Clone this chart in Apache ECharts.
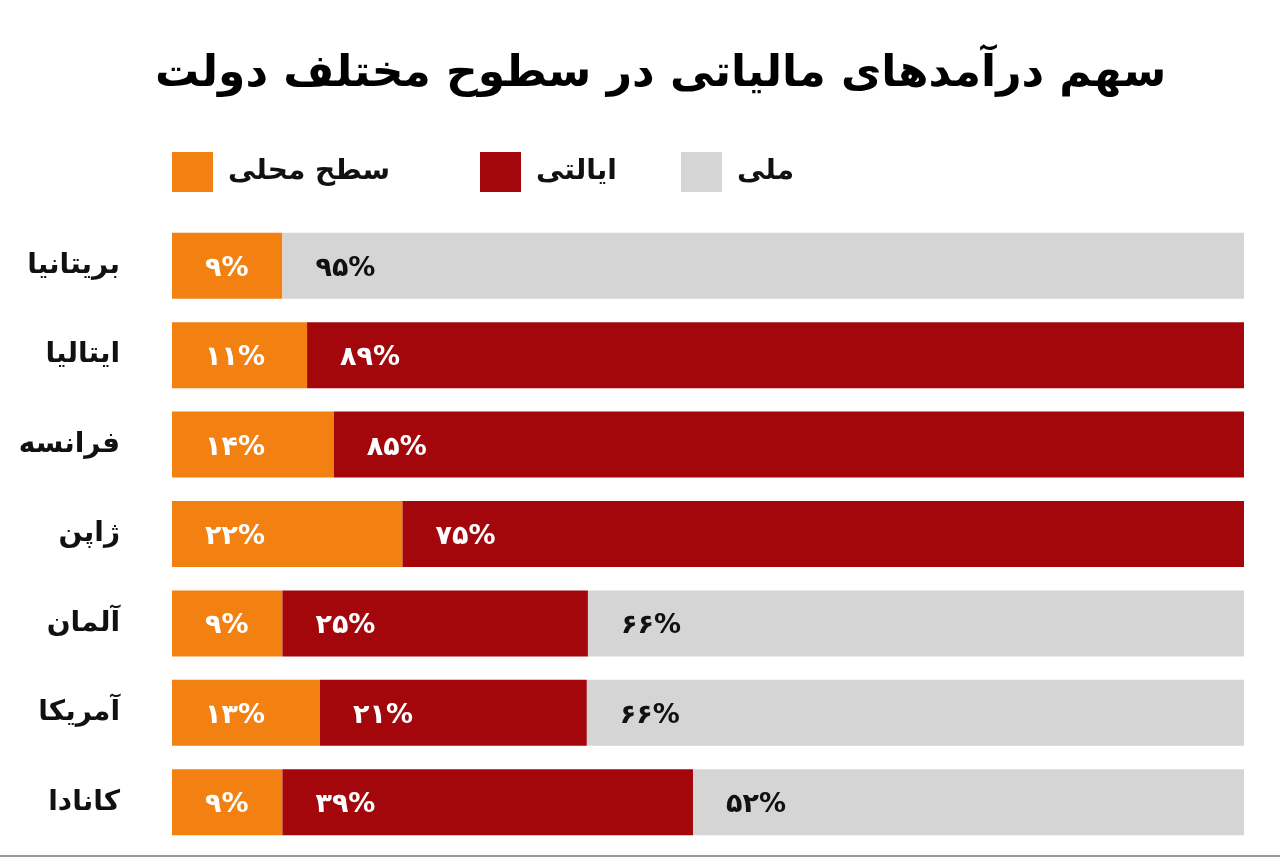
<!DOCTYPE html>
<html>
<head>
<meta charset="utf-8">
<script src="https://cdn.jsdelivr.net/npm/echarts@6/dist/echarts.min.js"></script>
<style>
	html, body { margin: 0; padding: 0; background: #fff; }
	#main { width: 1280px; height: 859px; }
</style>
</head>
<body>
<div id="main"></div>
<script>
var countries = ['بریتانیا', 'ایتالیا', 'فرانسه', 'ژاپن', 'آلمان', 'آمریکا', 'کانادا'];
var seriesNames = ['سطح محلی', 'ایالتی', 'ملی'];

// bar lengths as drawn in the picture (share of full bar)
var localShare = [10.3, 12.6, 15.1, 21.5, 10.3, 13.8, 10.3];
var stateShare = [0, 87.4, 84.9, 78.5, 28.5, 24.9, 38.3];
var nationalShare = [89.7, 0, 0, 0, 61.2, 61.3, 51.4];

// printed labels
var localLabels = ['۹%', '۱۱%', '۱۴%', '۲۲%', '۹%', '۱۳%', '۹%'];
var stateLabels = ['', '۸۹%', '۸۵%', '۷۵%', '۲۵%', '۲۱%', '۳۹%'];
var nationalLabels = ['۹۵%', '', '', '', '۶۶%', '۶۶%', '۵۲%'];

var font = '"DejaVu Sans", sans-serif';

function labelFor(texts, color) {
	return {
		show: true,
		position: 'insideLeft',
		distance: 33,
		offset: [0, 3],
		fontFamily: font,
		fontWeight: 'bold',
		fontSize: 27,
		color: color,
		formatter: function (p) { return texts[p.dataIndex]; }
	};
}

function legendAt(name, left) {
	return {
		data: [name],
		left: left,
		top: 152,
		padding: 0,
		itemWidth: 41,
		itemHeight: 40,
		icon: 'rect',
		selectedMode: false,
		textStyle: {
			fontFamily: font,
			fontWeight: 'bold',
			fontSize: 28,
			color: '#111',
			padding: [0, 0, 0, 10]
		}
	};
}

var myChart = echarts.init(document.getElementById('main'));
var option = {
	backgroundColor: '#fff',
	animation: false,
	color: ['#f28112', '#a3070b', '#d5d5d5'],
	title: {
		text: 'سهم درآمدهای مالیاتی در سطوح مختلف دولت',
		left: 155,
		top: 53,
		padding: 0,
		textStyle: {
			fontFamily: font,
			fontWeight: 'bold',
			fontSize: 44,
			color: '#000'
		}
	},
	legend: [
		legendAt(seriesNames[0], 172),
		legendAt(seriesNames[1], 480),
		legendAt(seriesNames[2], 681)
	],
	grid: {
		left: 172,
		right: 36,
		top: 221,
		bottom: 12,
		containLabel: false
	},
	xAxis: {
		type: 'value',
		min: 0,
		max: 100,
		show: false
	},
	yAxis: {
		type: 'category',
		data: countries,
		inverse: true,
		axisLine: { show: false },
		axisTick: { show: false },
		axisLabel: {
			margin: 52,
			fontFamily: font,
			fontWeight: 'bold',
			fontSize: 28,
			color: '#111'
		}
	},
	series: [{
		name: seriesNames[0],
		type: 'bar',
		stack: 'total',
		barWidth: 66,
		data: localShare,
		label: labelFor(localLabels, '#fff')
	}, {
		name: seriesNames[1],
		type: 'bar',
		stack: 'total',
		barWidth: 66,
		data: stateShare,
		label: labelFor(stateLabels, '#fff')
	}, {
		name: seriesNames[2],
		type: 'bar',
		stack: 'total',
		barWidth: 66,
		data: nationalShare,
		label: labelFor(nationalLabels, '#111')
	}],
	graphic: [{
		type: 'rect',
		left: 0,
		bottom: 2,
		shape: { width: 1280, height: 2 },
		style: { fill: '#9a9a9a' }
	}]
};
myChart.setOption(option);
</script>
</body>
</html>
